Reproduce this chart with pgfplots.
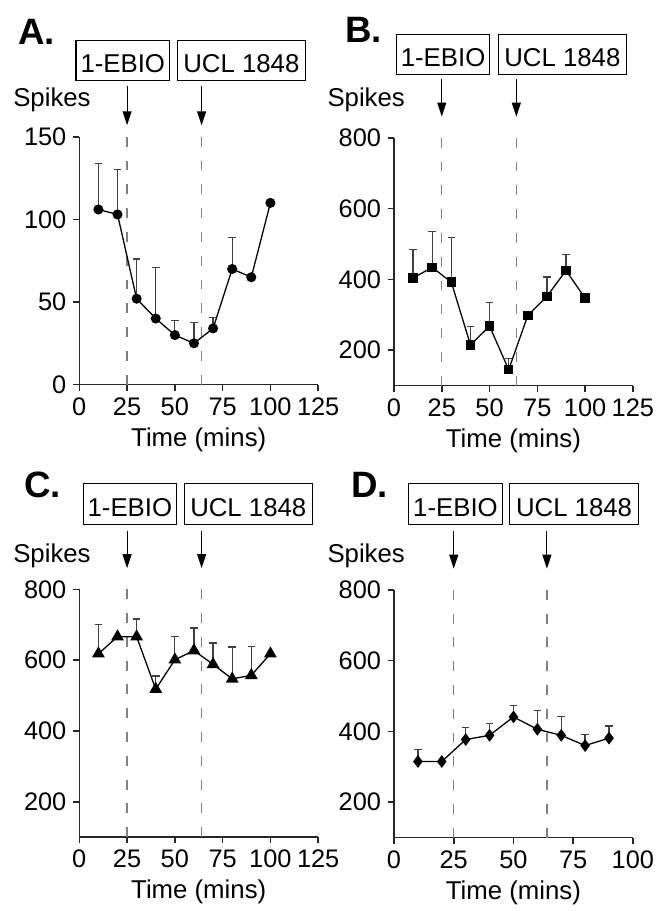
\documentclass[border=0pt]{standalone}
\usepackage{fontspec}
\setmainfont{Liberation Sans}
\usepackage{pgfplots}
\pgfplotsset{compat=1.18}
\usetikzlibrary{arrows.meta}

\pgfplotsset{
  panel/.style={
    width=120.5pt, height=125pt, scale only axis,
    anchor=south west, clip=false,
    axis x line*=bottom, axis y line*=left,
    axis line style={line width=0.8pt, black!85},
    tick align=outside, major tick length=3pt,
    tick style={line width=0.8pt, black!85},
    xmin=0, xmax=125, xtick={0,25,...,125},
    tick label style={font=\fontsize{12.8}{14}\selectfont},
    /pgf/number format/assume math mode=true,
    xlabel={Time (mins)},
    label style={font=\fontsize{13}{15}\selectfont},
    xlabel style={at={(axis description cs:0.5,0)}, anchor=base, yshift=-31pt},
    every axis plot/.append style={black, line width=0.65pt},
  },
  ebar/.style={
    error bars/.cd, y dir=plus, y explicit, error mark=-,
    error bar style={line width=0.65pt, black!75},
    error mark options={rotate=90, line width=0.65pt, black!75, mark size=1.9pt},
  },
}
\tikzset{
  drug/.style={black!50, line width=0.6pt, dash pattern=on 5pt off 7pt},
  add/.style={line width=0.55pt, -{Triangle[length=7pt,width=4.5pt]}},
  txt/.style={inner sep=0pt, font=\fontsize{13}{15}\selectfont},
  ttl/.style={inner sep=0pt, anchor=base west, font=\bfseries\fontsize{18.5}{20}\selectfont},
}
\newcommand{\drugbox}[5]{% x1 y1 x2 y2 text
  \draw[line width=0.55pt] (#1,#2) rectangle (#3,#4);
  \node[txt, anchor=base] at ({(#1+#3)/2},{#4-7.5}) {#5};}

\begin{document}
\begin{tikzpicture}
\begin{scope}[x=0.5pt,y=-0.5pt]
\useasboundingbox (0,0) rectangle (664,911);
% panel letters, y titles, treatment boxes
\node[ttl] at (18,45) {A.};
\node[ttl] at (348,43) {B.};
\node[ttl] at (24,502) {C.};
\node[ttl] at (354,502) {D.};
\node[txt, anchor=base west] at (13,107) {Spikes};
\node[txt, anchor=base west] at (330,107) {Spikes};
\node[txt, anchor=base west] at (13,567) {Spikes};
\node[txt, anchor=base west] at (330,567) {Spikes};
\drugbox{76.7}{41}{171}{81}{1-EBIO}
\drugbox{179}{41}{308}{81}{UCL 1848}
\drugbox{400}{35}{494}{75}{1-EBIO}
\drugbox{502.7}{35}{632}{75}{UCL 1848}
\drugbox{84}{488}{178}{529}{1-EBIO}
\drugbox{186}{488}{315}{529}{UCL 1848}
\drugbox{412.3}{488}{506.7}{529}{1-EBIO}
\drugbox{514.3}{488}{644}{529}{UCL 1848}
\end{scope}

% A
\begin{axis}[panel, at={(40pt,-194pt)}, ymin=0, ymax=150, ytick={0,50,100,150}]
\draw[drug] (axis cs:25,0) -- (axis cs:25,155);
\draw[drug] (axis cs:64,0) -- (axis cs:64,155);
\draw[add] (axis cs:25,181) -- (axis cs:25,157);
\draw[add] (axis cs:64,181) -- (axis cs:64,157);
\addplot[mark=*, mark size=2.2pt, ebar] coordinates {
  (10,106) +- (0,28) (20,103) +- (0,27) (30,52) +- (0,24) (40,40) +- (0,31)
  (50,30) +- (0,9) (60,25) +- (0,12.5) (70,34) +- (0,6.5) (80,70) +- (0,19)
  (90,65) +- (0,0) (100,110) +- (0,0)};
\end{axis}

% B
\begin{axis}[panel, at={(198.75pt,-194.5pt)}, ymin=100, ymax=800, ytick={200,400,600,800}]
\draw[drug] (axis cs:25,100) -- (axis cs:25,835);
\draw[drug] (axis cs:64,100) -- (axis cs:64,835);
\draw[add] (axis cs:25,965) -- (axis cs:25,860);
\draw[add] (axis cs:64,965) -- (axis cs:64,860);
\addplot[mark=square*, mark size=2.1pt, ebar] coordinates {
  (10,404) +- (0,80) (20,434) +- (0,102) (30,392) +- (0,126) (40,215) +- (0,52)
  (50,268) +- (0,66) (60,145) +- (0,31) (70,298) +- (0,0) (80,352) +- (0,55)
  (90,425) +- (0,45) (100,347) +- (0,0)};
\end{axis}

% C
\begin{axis}[panel, at={(40pt,-422.25pt)}, ymin=100, ymax=800, ytick={200,400,600,800}]
\draw[drug] (axis cs:25,100) -- (axis cs:25,835);
\draw[drug] (axis cs:64,100) -- (axis cs:64,835);
\draw[add] (axis cs:25,965) -- (axis cs:25,860);
\draw[add] (axis cs:64,965) -- (axis cs:64,860);
\addplot[mark=triangle*, mark size=3.1pt, ebar] coordinates {
  (10,618) +- (0,82) (20,666) +- (0,0) (30,666) +- (0,50) (40,518) +- (0,37)
  (50,601) +- (0,65) (60,627) +- (0,64) (70,588) +- (0,60) (80,547) +- (0,90)
  (90,557) +- (0,82) (100,618) +- (0,0)};
\end{axis}

% D
\begin{axis}[panel, at={(198.75pt,-422.5pt)}, ymin=100, ymax=800, ytick={200,400,600,800},
  xmax=100, xtick={0,25,...,100}]
\draw[drug] (axis cs:25,100) -- (axis cs:25,835);
\draw[drug] (axis cs:64,100) -- (axis cs:64,835);
\draw[add] (axis cs:25,965) -- (axis cs:25,860);
\draw[add] (axis cs:64,965) -- (axis cs:64,860);
\addplot[mark=diamond*, mark size=2.7pt, ebar] coordinates {
  (10,315) +- (0,33) (20,315) +- (0,0) (30,377) +- (0,34) (40,389) +- (0,33)
  (50,441) +- (0,33) (60,406) +- (0,54) (70,389) +- (0,54) (80,360) +- (0,31)
  (90,381) +- (0,34)};
\end{axis}
\end{tikzpicture}
\end{document}
